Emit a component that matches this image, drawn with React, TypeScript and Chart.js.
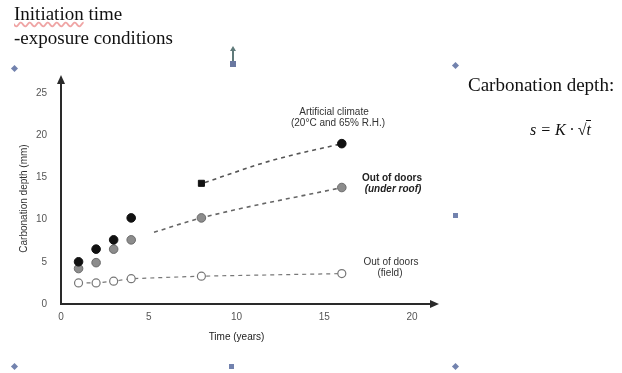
import React, { useEffect, useRef } from 'react';
import { Chart, registerables } from 'chart.js';

Chart.register(...registerables);

// ---- data ----
const years = [1, 2, 3, 4, 8, 16];
const artificialDepth = [5.0, 6.5, 7.6, 10.2, 14.3, 19.0];
const artificialStyles = ['circle', 'circle', 'circle', 'circle', 'rect', 'circle'];
const underRoofDepth = [4.2, 4.9, 6.5, 7.6, 10.2, 13.8];
const fieldDepth = [2.5, 2.5, 2.7, 3.0, 3.3, 3.6];

const artificialFitYears = [8.2, 12, 16];
const artificialFitDepth = [14.4, 17.0, 19.0];
const underRoofFitYears = [5.3, 8, 16];
const underRoofFitDepth = [8.5, 10.2, 13.8];

const xTicks = [0, 5, 10, 15, 20];
const yTicks = [0, 5, 10, 15, 20, 25];

const toXY = (xs: number[], ys: number[]) => xs.map((x, i) => ({ x, y: ys[i] }));

const axisArrows = {
  id: 'axisArrows',
  beforeDatasetsDraw(chart: any) {
    const { ctx, chartArea } = chart;
    const { left, right, top, bottom } = chartArea;
    const yTip = top - 18;
    const xTip = right + 27;
    ctx.save();
    ctx.strokeStyle = '#2a2a2a';
    ctx.fillStyle = '#2a2a2a';
    ctx.lineWidth = 2;
    ctx.beginPath();
    ctx.moveTo(left, bottom);
    ctx.lineTo(left, yTip + 6);
    ctx.moveTo(left - 1, bottom);
    ctx.lineTo(xTip - 6, bottom);
    ctx.stroke();
    ctx.beginPath();
    ctx.moveTo(left, yTip);
    ctx.lineTo(left - 4, yTip + 9);
    ctx.lineTo(left + 4, yTip + 9);
    ctx.closePath();
    ctx.fill();
    ctx.beginPath();
    ctx.moveTo(xTip, bottom);
    ctx.lineTo(xTip - 9, bottom - 4);
    ctx.lineTo(xTip - 9, bottom + 4);
    ctx.closePath();
    ctx.fill();
    ctx.restore();
  },
};

const tickFont = { family: '"Liberation Sans", Arial, sans-serif', size: 10 };

function ChartView() {
  const ref = useRef<HTMLCanvasElement | null>(null);
  useEffect(() => {
    if (!ref.current) return;
    const dash = [4, 4];
    const chart = new Chart(ref.current, {
      type: 'scatter',
      data: {
        datasets: [
          {
            label: 'Artificial climate',
            data: toXY(years, artificialDepth),
            pointStyle: artificialStyles as any,
            pointRadius: 4.3,
            backgroundColor: '#111',
            borderColor: '#111',
            showLine: false,
          },
          {
            label: 'Out of doors (under roof)',
            data: toXY(years, underRoofDepth),
            pointRadius: 4.3,
            backgroundColor: '#8c8c8c',
            borderColor: '#6a6a6a',
            borderWidth: 1,
            showLine: false,
          },
          {
            label: 'Out of doors (field)',
            data: toXY(years, fieldDepth),
            pointRadius: 4,
            backgroundColor: '#ffffff',
            borderColor: '#777',
            borderWidth: 1.2,
            showLine: true,
            borderDash: dash,
            segment: { borderColor: () => '#777' },
          } as any,
          {
            label: 'Artificial fit',
            data: toXY(artificialFitYears, artificialFitDepth),
            pointRadius: 0,
            showLine: true,
            borderColor: '#555',
            borderWidth: 1.6,
            borderDash: dash,
            cubicInterpolationMode: 'monotone',
          } as any,
          {
            label: 'Under roof fit',
            data: toXY(underRoofFitYears, underRoofFitDepth),
            pointRadius: 0,
            showLine: true,
            borderColor: '#666',
            borderWidth: 1.6,
            borderDash: dash,
            cubicInterpolationMode: 'monotone',
          } as any,
        ],
      },
      options: {
        responsive: false,
        animation: false,
        layout: { padding: { left: 0, top: 93, right: 210, bottom: 24 } },
        plugins: { legend: { display: false }, tooltip: { enabled: false } },
        scales: {
          x: {
            type: 'linear',
            min: 0,
            max: 20,
            afterBuildTicks: (s: any) => {
              s.ticks = xTicks.map((v) => ({ value: v }));
            },
            afterFit: (s: any) => {
              s.height = 45;
            },
            grid: { display: false, drawTicks: false },
            border: { display: false },
            ticks: { font: tickFont, color: '#555', padding: 7, maxRotation: 0 },
            title: {
              display: true,
              text: 'Time (years)',
              font: { family: '"Liberation Sans", Arial, sans-serif', size: 10 },
              color: '#222',
              padding: { top: 0, bottom: 6 },
            },
          },
          y: {
            type: 'linear',
            min: 0,
            max: 25,
            afterBuildTicks: (s: any) => {
              s.ticks = yTicks.map((v) => ({ value: v }));
            },
            afterFit: (s: any) => {
              s.width = 61;
            },
            grid: { display: false, drawTicks: false },
            border: { display: false },
            ticks: { font: tickFont, color: '#555', padding: 14 },
            title: {
              display: true,
              text: 'Carbonation depth (mm)',
              font: { family: '"Liberation Sans", Arial, sans-serif', size: 10 },
              color: '#333',
              padding: { top: 18, bottom: 0 },
            },
          },
        },
      },
      plugins: [axisArrows],
    } as any);
    return () => chart.destroy();
  }, []);
  return <canvas ref={ref} width={622} height={373} style={{ display: 'block', position: 'absolute', left: 0, top: 0 }} />;
}

const sans = '"Liberation Sans", Arial, sans-serif';
const serif = '"Liberation Serif", "Times New Roman", serif';

function Label({ x, y, children, style }: { x: number; y: number; children: any; style?: any }) {
  return (
    <div
      style={{
        position: 'absolute',
        left: x,
        top: y,
        transform: 'translate(-50%, -50%)',
        whiteSpace: 'nowrap',
        lineHeight: 1,
        ...style,
      }}
    >
      {children}
    </div>
  );
}

function Handle({ x, y, shape }: { x: number; y: number; shape: 'diamond' | 'square' }) {
  return (
    <div
      style={{
        position: 'absolute',
        left: x - 2.5,
        top: y - 2.5,
        width: 5,
        height: 5,
        background: '#7282ae',
        transform: shape === 'diamond' ? 'rotate(45deg)' : undefined,
      }}
    />
  );
}

export default function App() {
  const annot = { fontFamily: sans, fontSize: 10, color: '#333' };
  return (
    <div
      style={{
        position: 'absolute',
        left: 0,
        top: 0,
        width: 622,
        height: 373,
        background: '#fff',
        overflow: 'hidden',
      }}
    >
      <ChartView />
      <div
        style={{
          position: 'absolute',
          left: 14,
          top: 2,
          fontFamily: serif,
          fontSize: 19,
          lineHeight: '24px',
          color: '#111',
          whiteSpace: 'nowrap',
        }}
      >
        <div>
          <span style={{ textDecoration: 'underline wavy rgba(225,90,90,0.55)' }}>Initiation</span> time
        </div>
        <div>-exposure conditions</div>
      </div>
      <div
        style={{
          position: 'absolute',
          left: 468,
          top: 74,
          fontFamily: serif,
          fontSize: 19,
          color: '#111',
          whiteSpace: 'nowrap',
        }}
      >
        Carbonation depth:
      </div>
      <div
        style={{
          position: 'absolute',
          left: 530,
          top: 121,
          fontFamily: serif,
          fontSize: 16,
          fontStyle: 'italic',
          color: '#111',
          whiteSpace: 'nowrap',
        }}
      >
        s = K · √<span style={{ borderTop: '1px solid #111' }}>t</span>
      </div>

      <Label x={334} y={112} style={annot}>Artificial climate</Label>
      <Label x={338} y={123} style={annot}>(20°C and 65% R.H.)</Label>
      <Label x={392} y={178} style={{ ...annot, fontWeight: 'bold', color: '#222' }}>Out of doors</Label>
      <Label x={393} y={189} style={{ ...annot, fontWeight: 'bold', fontStyle: 'italic', color: '#222' }}>(under roof)</Label>
      <Label x={391} y={262} style={annot}>Out of doors</Label>
      <Label x={390} y={273} style={annot}>(field)</Label>

      <Handle x={14} y={68} shape="diamond" />
      <Handle x={455} y={65} shape="diamond" />
      <Handle x={14} y={366} shape="diamond" />
      <Handle x={231} y={366} shape="square" />
      <Handle x={455} y={366} shape="diamond" />
      <Handle x={455} y={215} shape="square" />
      <div style={{ position: 'absolute', left: 232, top: 48, width: 2, height: 14, background: '#5f7a7a' }} />
      <div
        style={{
          position: 'absolute',
          left: 230,
          top: 46,
          width: 0,
          height: 0,
          borderLeft: '3px solid transparent',
          borderRight: '3px solid transparent',
          borderBottom: '5px solid #5f7a7a',
        }}
      />
      <div style={{ position: 'absolute', left: 230, top: 61, width: 6, height: 6, background: '#6a78a0' }} />
    </div>
  );
}
